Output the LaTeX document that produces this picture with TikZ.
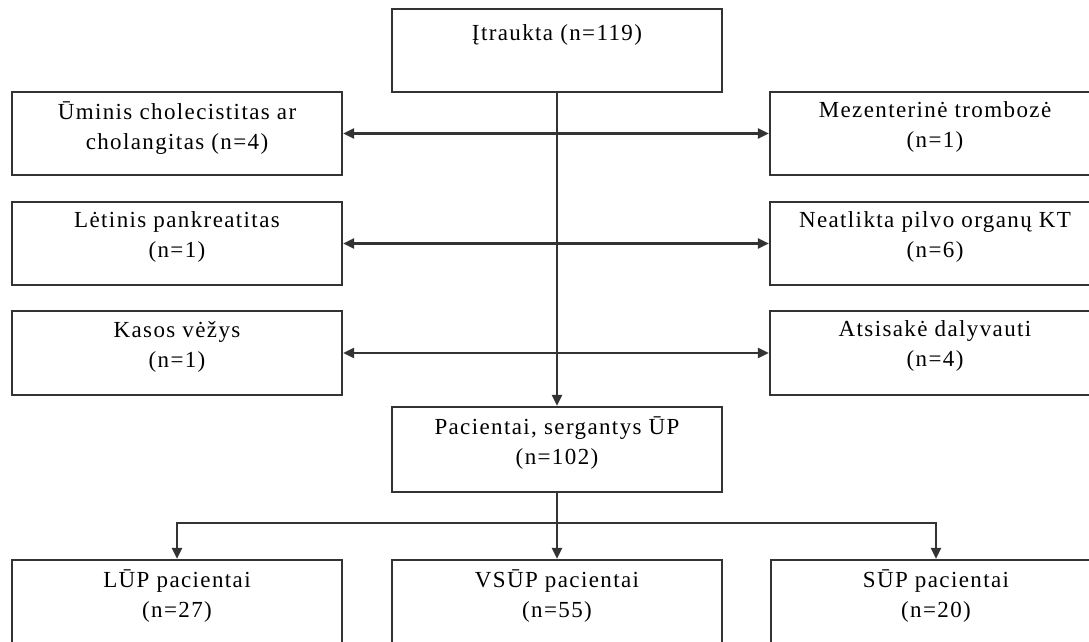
\documentclass[tikz,border=0pt]{standalone}
\usepackage{fontspec}
\setmainfont{Liberation Serif}[LetterSpace=6]
\usetikzlibrary{arrows.meta}
\usetikzlibrary{positioning}

\begin{document}
\begin{tikzpicture}[x=1pt, y=-1pt, line width=2.2pt, >={Triangle[length=11pt,width=10pt]},
        box_style/.style={rectangle, draw=black!80, minimum width=330pt, inner sep=0pt},
        text_style/.style={anchor=north, inner sep=0pt, align=center, font=\fontsize{23}{30}\selectfont, execute at begin node=\strut},
        arrow_style/.style={draw=black!80, ->},
        both_style/.style={draw=black!80, <->}]

        \useasboundingbox (0,0) rectangle (1089,641);

        % top and middle column
        \node [box_style, minimum height=83pt](incl) at (557,50.5) {};
        \node [text_style, below=10pt of incl.north](inclT) {Įtraukta (n=119)};
        \node [box_style, minimum height=85pt](pts) at (557,449.5) {};
        \node [text_style, below=10pt of pts.north](ptsT) {Pacientai, sergantys ŪP\\(n=102)};

        % excluded, left
        \node [box_style, minimum height=83pt](chol) at (177,133.5) {};
        \node [text_style, below=10pt of chol.north](cholT) {Ūminis cholecistitas ar\\cholangitas (n=4)};
        \node [box_style, minimum height=83pt](pank) at (177,243.5) {};
        \node [text_style, below=10pt of pank.north](pankT) {Lėtinis pankreatitas\\(n=1)};
        \node [box_style, minimum height=84pt](vez) at (177,353) {};
        \node [text_style, below=10pt of vez.north](vezT) {Kasos vėžys\\(n=1)};

        % excluded, right
        \node [box_style, minimum height=83pt](mez) at (935,133.5) {};
        \node [text_style, below=10pt of mez.north](mezT) {Mezenterinė trombozė\\(n=1)};
        \node [box_style, minimum height=83pt](kt) at (935,243.5) {};
        \node [text_style, below=10pt of kt.north](ktT) {Neatlikta pilvo organų KT\\(n=6)};
        \node [box_style, minimum height=84pt](ats) at (935,353) {};
        \node [text_style, below=10pt of ats.north](atsT) {Atsisakė dalyvauti\\(n=4)};

        % groups
        \node [box_style, minimum height=83pt](lup) at (177,601.5) {};
        \node [text_style, below=10pt of lup.north](lupT) {LŪP pacientai\\(n=27)};
        \node [box_style, minimum height=83pt](vsup) at (557,601.5) {};
        \node [text_style, below=10pt of vsup.north](vsupT) {VSŪP pacientai\\(n=55)};
        \node [box_style, minimum height=83pt](sup) at (936,601.5) {};
        \node [text_style, below=10pt of sup.north](supT) {SŪP pacientai\\(n=20)};

        \coordinate (br) at (557,523);

        \draw [arrow_style] (incl.south) -- (pts.north);
        \draw [both_style] (chol.east) -- (mez.west);
        \draw [both_style] (pank.east) -- (kt.west);
        \draw [both_style] (vez.east) -- (ats.west);
        \draw [arrow_style] (pts.south) -- (br) -| (lup.north);
        \draw [arrow_style] (br) -- (vsup.north);
        \draw [arrow_style] (br) -| (sup.north);
\end{tikzpicture}
\end{document}
